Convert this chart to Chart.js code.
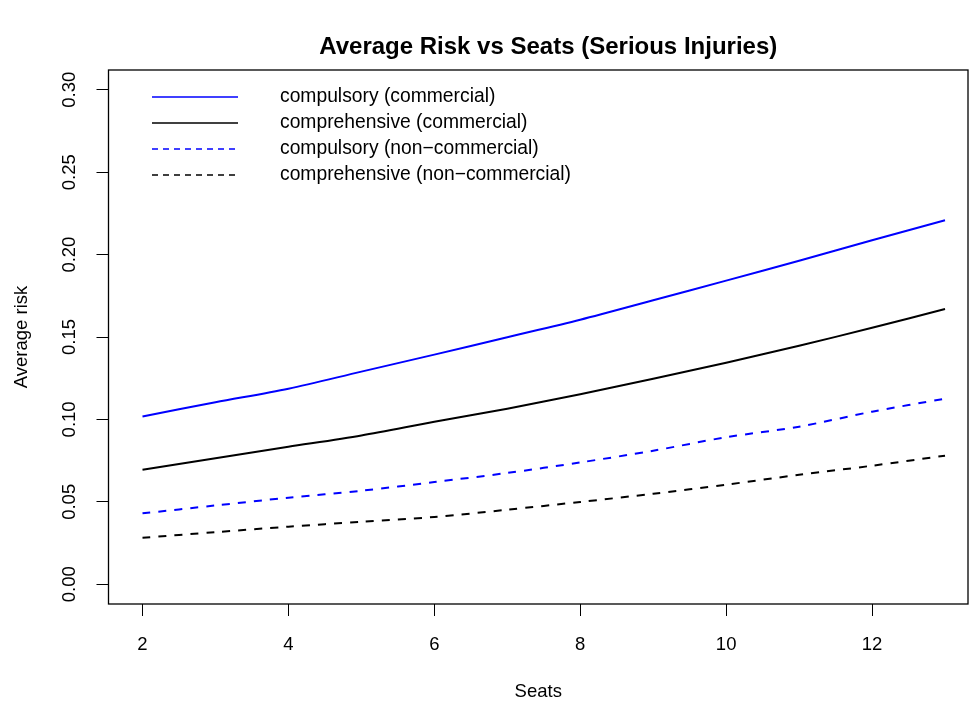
<!DOCTYPE html>
<html>
<head>
<meta charset="utf-8">
<script src="https://cdn.jsdelivr.net/npm/chart.js@4.4.0/dist/chart.umd.min.js"></script>
<style>
  html, body { margin: 0; padding: 0; background: #fff; }
  #grafico { display: block; }
</style>
</head>
<body>
<canvas id="grafico" width="969" height="706"></canvas>
<script>
/* Average risk vs seats */
var seats = [2, 3, 4, 5, 6, 7, 8, 9, 10, 11, 12, 13];
var compulsoryCommercial = [0.1018, 0.1104, 0.1186, 0.1290, 0.1393, 0.1499, 0.1605, 0.1723, 0.1842, 0.1963, 0.2087, 0.2208];
var comprehensiveCommercial = [0.0695, 0.0765, 0.0834, 0.0903, 0.0986, 0.1065, 0.1153, 0.1247, 0.1344, 0.1447, 0.1556, 0.1670];
var compulsoryNonCommercial = [0.0430, 0.0478, 0.0525, 0.0567, 0.0620, 0.0675, 0.0739, 0.0810, 0.0892, 0.0956, 0.1047, 0.1126];
var comprehensiveNonCommercial = [0.0282, 0.0316, 0.0349, 0.0379, 0.0408, 0.0452, 0.0499, 0.0549, 0.0604, 0.0664, 0.0719, 0.0780];
var seriesLabels = ['compulsory (commercial)', 'comprehensive (commercial)', 'compulsory (non\u2212commercial)', 'comprehensive (non\u2212commercial)'];
var xTicks = [2, 4, 6, 8, 10, 12];
var yTicks = [0, 0.05, 0.10, 0.15, 0.20, 0.25, 0.30];
var yTickLabels = ['0.00', '0.05', '0.10', '0.15', '0.20', '0.25', '0.30'];

var FONTE = '"Liberation Sans", Arial, sans-serif';

function pontos(valores) {
	return seats.map(function(s, i) { return { x: s, y: valores[i] }; });
}

function serie(label, valores, cor, tracejado) {
	return {
		label: label,
		data: pontos(valores),
		borderColor: cor,
		backgroundColor: cor,
		borderWidth: 2,
		borderDash: tracejado ? [8, 8] : [],
		pointRadius: 0,
		fill: false,
		tension: 0.3
	};
}

var extras = {
	id: 'extras',
	afterDraw: function(chart) {
		var ctx = chart.ctx;
		var a = chart.chartArea;
		var y = chart.scales.y;
		ctx.save();
		// caixa
		ctx.strokeStyle = '#000';
		ctx.lineWidth = 1.3;
		ctx.strokeRect(a.left, a.top, a.right - a.left, a.bottom - a.top);

		ctx.fillStyle = '#000';
		// titulo
		ctx.font = 'bold 24px ' + FONTE;
		ctx.textAlign = 'center';
		ctx.textBaseline = 'middle';
		ctx.fillText('Average Risk vs Seats (Serious Injuries)', (a.left + a.right) / 2 + 10, 47);

		// titulos dos eixos
		ctx.font = '18.5px ' + FONTE;
		ctx.fillText('Seats', (a.left + a.right) / 2, 692);
		ctx.save();
		ctx.translate(22, (a.top + a.bottom) / 2);
		ctx.rotate(-Math.PI / 2);
		ctx.fillText('Average risk', 0, 0);
		ctx.restore();

		// rotulos do eixo y, girados
		yTicks.forEach(function(v, i) {
			ctx.save();
			ctx.translate(70, y.getPixelForValue(v));
			ctx.rotate(-Math.PI / 2);
			ctx.fillText(yTickLabels[i], 0, 0);
			ctx.restore();
		});

		// legenda
		ctx.font = '19.3px ' + FONTE;
		var linhaY = [97, 123, 149, 175];
		chart.data.datasets.forEach(function(ds, i) {
			ctx.strokeStyle = ds.borderColor;
			ctx.lineWidth = 1.3;
			ctx.setLineDash(ds.borderDash.length ? [6, 5] : []);
			ctx.beginPath();
			ctx.moveTo(152, linhaY[i]);
			ctx.lineTo(238, linhaY[i]);
			ctx.stroke();
			ctx.setLineDash([]);
			ctx.textAlign = 'left';
			ctx.fillText(ds.label, 280, linhaY[i]);
		});
		ctx.restore();
	}
};

var grafico = new Chart(document.getElementById('grafico').getContext('2d'), {
	type: 'line',
	data: {
		datasets: [
			serie(seriesLabels[0], compulsoryCommercial, '#0000ff', false),
			serie(seriesLabels[1], comprehensiveCommercial, '#000000', false),
			serie(seriesLabels[2], compulsoryNonCommercial, '#0000ff', true),
			serie(seriesLabels[3], comprehensiveNonCommercial, '#000000', true)
		]
	},
	options: {
		responsive: false,
		animation: false,
		layout: { padding: { left: 0, top: 70, right: 1, bottom: 0 } },
		plugins: {
			legend: { display: false },
			title: { display: false },
			tooltip: { enabled: false }
		},
		scales: {
			x: {
				type: 'linear',
				min: 1.534,
				max: 13.315,
				afterBuildTicks: function(scale) {
					scale.ticks = xTicks.map(function(v) { return { value: v }; });
				},
				afterFit: function(scale) { scale.height = 102; },
				grid: { drawOnChartArea: false, drawTicks: true, tickLength: 12, color: '#000', lineWidth: 1 },
				border: { display: false },
				ticks: {
					color: '#000',
					font: { family: FONTE, size: 18.5 },
					padding: 18,
					maxRotation: 0,
					autoSkip: false
				}
			},
			y: {
				type: 'linear',
				min: -0.012,
				max: 0.312,
				afterBuildTicks: function(scale) {
					scale.ticks = yTicks.map(function(v) { return { value: v }; });
				},
				afterFit: function(scale) { scale.width = 108.5; },
				grid: { drawOnChartArea: false, drawTicks: true, tickLength: 12, color: '#000', lineWidth: 1 },
				border: { display: false },
				ticks: { display: false }
			}
		}
	},
	plugins: [extras]
});
</script>
</body>
</html>
